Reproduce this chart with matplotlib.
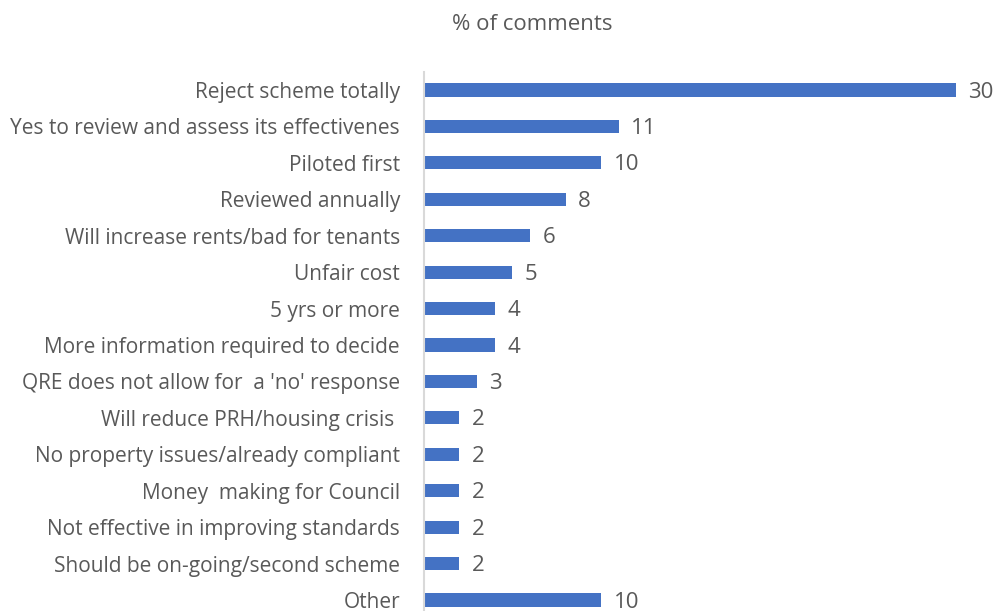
import matplotlib
matplotlib.use("Agg")
import matplotlib.pyplot as plt

categories = [
    "Reject scheme totally",
    "Yes to review and assess its effectivenes",
    "Piloted first",
    "Reviewed annually",
    "Will increase rents/bad for tenants",
    "Unfair cost",
    "5 yrs or more",
    "More information required to decide",
    "QRE does not allow for  a 'no' response",
    "Will reduce PRH/housing crisis ",
    "No property issues/already compliant",
    "Money  making for Council",
    "Not effective in improving standards",
    "Should be on-going/second scheme",
    "Other",
]
values = [30, 11, 10, 8, 6, 5, 4, 4, 3, 2, 2, 2, 2, 2, 10]
title = "% of comments"

plt.rcParams['font.family'] = ['Open Sans', 'DejaVu Sans']
text_color = '#595959'

fig = plt.figure(figsize=(9.97, 6.11), dpi=100)
ax = fig.add_axes([0.425, -0.0118, 0.569, 0.8943])

y = list(range(len(categories)))
ax.barh(y, values, height=0.36, color='#4472C4')
ax.set_ylim(len(categories) - 0.5, -0.5)
ax.set_xlim(0, 32)

ax.set_yticks(y)
ax.set_yticklabels(categories, fontsize=15, color=text_color)
ax.tick_params(axis='y', length=0, pad=17)
ax.set_xticks([])

for s in ['top', 'right', 'bottom']:
    ax.spines[s].set_visible(False)
ax.spines['left'].set_color('#d9d9d9')
ax.spines['left'].set_linewidth(1.5)

# value labels just right of each bar
for yi, v in zip(y, values):
    ax.annotate(str(v), (v, yi), xytext=(9, -1.5), textcoords='offset points',
                va='center', ha='left', fontsize=16, color=text_color)

fig.text(0.534, 0.96, title, ha='center', va='center', fontsize=16, color=text_color)

fig.savefig("out.png", dpi=100)
